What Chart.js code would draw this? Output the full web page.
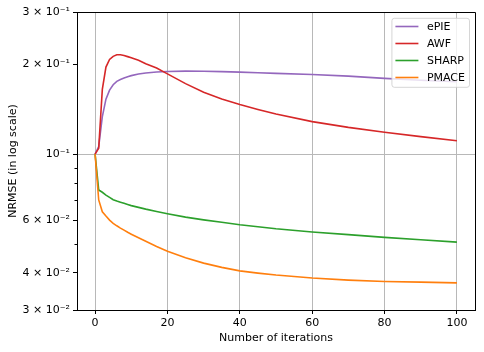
<html>

<head>
    <meta charset="utf-8">
    <title>NRMSE vs iterations</title>
    <script src="https://cdn.jsdelivr.net/npm/chart.js@4.4.0/dist/chart.umd.min.js"></script>
    <style>
        body {
            margin: 0;
            background: #fff;
        }
    </style>
</head>

<body>
    <canvas id="myChart" width="484" height="352"></canvas>

    <script>
        var iterations = [0, 1, 2, 3, 4, 5, 6, 7, 8, 9, 10, 12, 14, 17, 20, 25, 30, 35, 40, 45, 50, 60, 70, 80, 90, 100];

        var ePIE = [0.1, 0.106, 0.1336, 0.153, 0.164, 0.171, 0.1755, 0.178, 0.18, 0.182, 0.1835, 0.1858, 0.1873,
            0.1887, 0.1895, 0.19, 0.1898, 0.1893, 0.1885, 0.1876, 0.1867, 0.1852, 0.1828, 0.1797, 0.177, 0.175];
        var AWF = [0.1, 0.1046, 0.165, 0.196, 0.208, 0.213, 0.2155, 0.2155, 0.2145, 0.2125, 0.2105, 0.2065, 0.201,
            0.1945, 0.186, 0.1725, 0.1615, 0.1533, 0.1468, 0.1413, 0.1364, 0.1286, 0.123, 0.1184, 0.1145, 0.111];
        var SHARP = [0.1, 0.0758, 0.0745, 0.0729, 0.0716, 0.0703, 0.0696, 0.069, 0.0684, 0.0678, 0.0672, 0.0663, 0.0654,
            0.0642, 0.0631, 0.0615, 0.0602, 0.0591, 0.058, 0.0571, 0.0562, 0.0548, 0.0537, 0.0526, 0.0516, 0.0507];
        var PMACE = [0.1, 0.0702, 0.0641, 0.062, 0.0601, 0.0586, 0.0575, 0.0565, 0.0556, 0.0547, 0.0539, 0.0524, 0.051,
            0.049, 0.0472, 0.0449, 0.0431, 0.0417, 0.0406, 0.0399, 0.0393, 0.0384, 0.0378, 0.0374, 0.0372, 0.037];

        var seriesNames = ['ePIE', 'AWF', 'SHARP', 'PMACE'];
        var seriesColors = ['#9467bd', '#d62728', '#2ca02c', '#ff7f0e'];

        var xTickValues = [0, 20, 40, 60, 80, 100];
        var yTickValues = [0.03, 0.04, 0.05, 0.06, 0.07, 0.08, 0.09, 0.1, 0.2, 0.3];
        var yTickLabels = ['3 × 10⁻²', '4 × 10⁻²', '', '6 × 10⁻²', '', '', '', '10⁻¹', '2 × 10⁻¹', '3 × 10⁻¹'];

        Chart.defaults.font.family = '"DejaVu Sans"';
        Chart.defaults.font.size = 11;
        Chart.defaults.color = '#000';

        function toPoints(values) {
            return iterations.map((x, i) => ({ x: x, y: values[i] }));
        }

        var allSeries = [ePIE, AWF, SHARP, PMACE];
        var datasets = allSeries.map((s, i) => ({
            label: seriesNames[i],
            data: toPoints(s),
            borderColor: seriesColors[i],
            backgroundColor: seriesColors[i],
            borderWidth: 1.6,
            pointRadius: 0,
            fill: false,
            tension: 0,
            order: allSeries.length - i   // later series on top, like matplotlib
        }));

        // frame, short minor ticks and the legend box inside the axes
        var decorPlugin = {
            id: 'decor',
            afterDatasetsDraw(chart) {
                const ctx = chart.ctx;
                const ca = chart.chartArea;
                const yScale = chart.scales.y;
                ctx.save();

                ctx.strokeStyle = '#000';
                ctx.lineWidth = 1;
                yTickValues.forEach((v, i) => {
                    if (yTickLabels[i] !== '') return;
                    const py = Math.round(yScale.getPixelForValue(v)) + 0.5;
                    ctx.beginPath();
                    ctx.moveTo(ca.left - 2.5, py);
                    ctx.lineTo(ca.left, py);
                    ctx.stroke();
                });

                ctx.beginPath();
                ctx.moveTo(ca.left, Math.round(ca.top) + 0.5);
                ctx.lineTo(Math.round(ca.right) + 0.5, Math.round(ca.top) + 0.5);
                ctx.lineTo(Math.round(ca.right) + 0.5, ca.bottom);
                ctx.stroke();

                // legend
                ctx.font = '11px "DejaVu Sans"';
                const ds = chart.data.datasets;
                const textW = Math.max(...ds.map(d => ctx.measureText(d.label).width));
                const padL = 3.5, handle = 23, gap = 8.5, padR = 4.5, rowH = 17, padT = 8.2;
                const w = padL + handle + gap + textW + padR;
                const h = rowH * ds.length + 1;
                const bx = ca.right - 5.5 - w;
                const by = ca.top + 6.3;

                ctx.beginPath();
                ctx.roundRect(bx, by, w, h, 2.5);
                ctx.fillStyle = 'rgba(255,255,255,0.8)';
                ctx.fill();
                ctx.strokeStyle = 'rgba(204,204,204,0.8)';
                ctx.lineWidth = 1;
                ctx.stroke();

                ctx.textBaseline = 'middle';
                ctx.textAlign = 'left';
                ds.forEach((d, i) => {
                    const cy = by + padT + i * rowH;
                    ctx.strokeStyle = d.borderColor;
                    ctx.lineWidth = 1.6;
                    ctx.beginPath();
                    ctx.moveTo(bx + padL, cy);
                    ctx.lineTo(bx + padL + handle, cy);
                    ctx.stroke();
                    ctx.fillStyle = '#000';
                    ctx.fillText(d.label, bx + padL + handle + gap, cy + 0.5);
                });

                ctx.restore();
            }
        };

        var config = {
            type: 'line',
            data: { datasets: datasets },
            options: {
                responsive: false,
                animation: false,
                layout: {
                    padding: { top: 12, right: 9, left: 0, bottom: 0 }
                },
                plugins: {
                    legend: { display: false },
                    tooltip: { enabled: false }
                },
                scales: {
                    x: {
                        type: 'linear',
                        min: -5,
                        max: 105,
                        afterBuildTicks: (scale) => {
                            scale.ticks = xTickValues.map(v => ({ value: v }));
                        },
                        afterFit: (scale) => {
                            scale.height = 42;
                        },
                        ticks: {
                            autoSkip: false,
                            maxRotation: 0,
                            padding: 3,
                            color: '#000'
                        },
                        grid: {
                            color: '#b8b8b8',
                            lineWidth: 1,
                            tickLength: 4,
                            tickColor: '#000',
                            tickWidth: 1
                        },
                        border: { color: '#000', width: 1 },
                        title: {
                            display: true,
                            text: 'Number of iterations',
                            color: '#000',
                            padding: { top: 0, bottom: 7.5 }
                        }
                    },
                    y: {
                        type: 'logarithmic',
                        min: 0.03,
                        max: 0.3,
                        afterBuildTicks: (scale) => {
                            scale.ticks = yTickValues.map(v => ({ value: v }));
                        },
                        afterFit: (scale) => {
                            scale.width = 77;
                        },
                        ticks: {
                            autoSkip: false,
                            padding: 3,
                            color: '#000',
                            callback: (value) => {
                                const i = yTickValues.indexOf(value);
                                return i >= 0 ? yTickLabels[i] : '';
                            }
                        },
                        grid: {
                            color: (c) => (c.tick && c.tick.value === 0.1) ? '#b8b8b8' : 'transparent',
                            lineWidth: 1,
                            tickLength: 4,
                            tickColor: (c) => {
                                const i = c.tick ? yTickValues.indexOf(c.tick.value) : -1;
                                return (i >= 0 && yTickLabels[i] !== '') ? '#000' : 'transparent';
                            },
                            tickWidth: 1
                        },
                        border: { color: '#000', width: 1 },
                        title: {
                            display: true,
                            text: 'NRMSE (in log scale)',
                            color: '#000',
                            padding: { top: 6.5, bottom: 0 }
                        }
                    }
                }
            },
            plugins: [decorPlugin]
        };

        var myChart = new Chart(document.getElementById('myChart'), config);
    </script>
</body>

</html>
